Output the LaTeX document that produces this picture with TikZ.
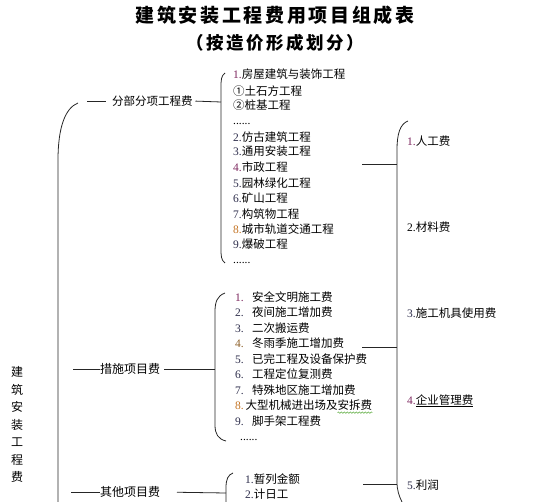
\documentclass[tikz,border=0pt]{standalone}
\usepackage{fontspec}
\setmainfont{Liberation Serif}
\newfontfamily\cjk{Noto Sans CJK SC}
\newfontfamily\cjktitle[LetterSpace=14]{Noto Sans CJK SC}
\newfontfamily\cjksub[LetterSpace=14]{Noto Sans CJK SC}
\usepackage{tikz}
\usetikzlibrary{decorations.pathmorphing}
\definecolor{numpurple}{RGB}{125,40,95}
\definecolor{numorange}{RGB}{195,115,35}
\definecolor{numbrown}{RGB}{140,95,40}
\definecolor{numdark}{RGB}{45,45,75}
\definecolor{spellgreen}{RGB}{90,170,60}
\tikzset{>=stealth,
  heading/.style={font=\cjktitle\bfseries\fontsize{19}{20}\selectfont},
  subheading/.style={font=\cjksub\bfseries\fontsize{17.5}{19}\selectfont},
  branch/.style={anchor=west, inner sep=0pt, outer sep=0pt, font=\cjk\fontsize{12}{13}\selectfont},
  item/.style={anchor=west, inner sep=0pt, text height=9pt, text depth=2.5pt, font=\cjk\fontsize{11.5}{12}\selectfont},
  brace/.style={line width=0.8pt, black!85},
  link/.style={line width=0.8pt, black!85}}
\newcommand{\nm}[2]{\textcolor{#1}{\rmfamily #2}}
\newcommand{\cnum}[2]{\makebox[17pt][l]{\nm{#1}{#2}}}

\begin{document}
\begin{tikzpicture}[x=1pt, y=-1pt]
  \useasboundingbox (0,0) rectangle (560,502);
  \node[heading] (title) at (275,15) {建筑安装工程费用项目组成表};
  \node[subheading] (subtitle) at (275,43) {（按造价形成划分）};
  \node[align=center, inner sep=0pt, font=\cjk\fontsize{12}{17.5}\selectfont] (total) at (17,424.5) {建\\筑\\安\\装\\工\\程\\费};

  \draw[brace] (78,103) .. controls (65,108) and (58,128) .. (58,160) -- (58,502);
  \draw[brace] (225,73) .. controls (221,76) and (221,80) .. (221,88) -- (221,248) .. controls (221,256) and (221,260) .. (225,263);
  \draw[brace] (225,293) .. controls (217,296) and (215,302) .. (215,312) -- (215,425) .. controls (215,434) and (218,439) .. (226,441);
  \draw[brace] (233,473) .. controls (228,475) and (226,479) .. (226,488) -- (226,502);
  \draw[brace] (408,121) .. controls (400,124) and (397,134) .. (397,150) -- (397,482) .. controls (397,490) and (399,496) .. (402,502);

  \coordinate (fbL) at (87,101);
  \coordinate (fbJ) at (221,102);
  \coordinate (csL) at (73,369);
  \coordinate (csJ) at (215,369);
  \coordinate (qtL) at (71,492);
  \coordinate (qtJ) at (226,493);

  \node[branch, font=\cjk\fontsize{11.5}{13}\selectfont] (fbfx) at (112,101) {分部分项工程费};
  \node[branch] (csxm) at (100,369) {措施项目费};
  \node[branch] (qtxm) at (100,492) {其他项目费};

  \draw[link, shorten >=6pt] (fbL) -- (fbfx.west);
  \draw[link, shorten <=3pt] (fbfx.east) -- (fbJ);
  \draw[link] (csL) -- (csxm.west);
  \draw[link, shorten <=4pt] (csxm.east) -- (csJ);
  \draw[link] (qtL) -- (qtxm.west);
  \draw[link, shorten <=17pt] (qtxm.east) -- (qtJ);

  \foreach \y/\t [count=\i] in {75/{\nm{numpurple}{1.}房屋建筑与装饰工程}, 92.3/{①土石方工程}, 106.7/{②桩基工程},
      121.7/{\rmfamily ......}, 138.3/{\nm{numdark}{2.}仿古建筑工程}, 152.7/{\nm{numdark}{3.}通用安装工程},
      168.3/{\nm{numpurple}{4.}市政工程}, 184/{\nm{numdark}{5.}园林绿化工程}, 199.3/{\nm{numdark}{6.}矿山工程},
      215/{\nm{numdark}{7.}构筑物工程}, 230.7/{\nm{numorange}{8.}城市轨道交通工程}, 245.7/{\nm{numdark}{9.}爆破工程},
      260/{\rmfamily ......}}
  {
      \node[item] (fb\i) at (233,\y) {\t};
  }

  \foreach \y/\t [count=\i] in {298.3/{\cnum{numpurple}{1.}安全文明施工费}, 313.3/{\cnum{numdark}{2.}夜间施工增加费},
      329.3/{\cnum{numdark}{3.}二次搬运费}, 344.3/{\cnum{numbrown}{4.}冬雨季施工增加费},
      360/{\cnum{numdark}{5.}已完工程及设备保护费}, 375.7/{\cnum{numdark}{6.}工程定位复测费},
      391/{\cnum{numdark}{7.}特殊地区施工增加费}, 406.7/{\nm{numorange}{8.}\,大型机械进出场及安拆费},
      422.3/{\cnum{numdark}{9.}脚手架工程费}}
  {
      \node[item] (cs\i) at (235,\y) {\t};
  }
  \node[item, font=\rmfamily\fontsize{11.5}{12}\selectfont] (csdots) at (240,437) {......};
  \draw[spellgreen, line width=0.5pt, decorate, decoration={snake, amplitude=0.7pt, segment length=3pt}]
      ([xshift=-35pt]cs8.south east) -- (cs8.south east);

  \node[item] (qt1) at (245,480) {\nm{numdark}{1.}暂列金额};
  \node[item] (qt2) at (245,495) {\nm{numdark}{2.}计日工};

  \foreach \y/\t [count=\i] in {142/{\nm{numpurple}{1.}人工费}, 228/{\nm{black}{2.}材料费},
      314/{\nm{numdark}{3.}施工机具使用费}, 401/{\nm{numpurple}{4.}\underline{企业管理费}}, 486/{\nm{numdark}{5.}利润}}
  {
      \node[item] (fy\i) at (407,\y) {\t};
  }

  \coordinate (fbR) at (362,164.5);
  \coordinate (csR) at (362,347);
  \coordinate (qtR) at (363,484);
  \coordinate (rA) at (397,164.5);
  \coordinate (rB) at (397,347);
  \coordinate (rC) at (397,484);
  \draw[link] (fbR) -- (rA);
  \draw[link] (csR) -- (rB);
  \draw[link] (qtR) -- (rC);
\end{tikzpicture}
\end{document}
